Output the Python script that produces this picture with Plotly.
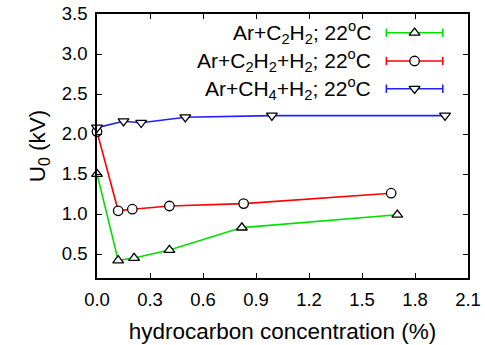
import plotly.graph_objects as go

# Data
c2h2_x = [0.0, 0.12, 0.21, 0.41, 0.82, 1.70]
c2h2_y = [1.50, 0.42, 0.45, 0.55, 0.83, 0.99]
c2h2h2_x = [0.0, 0.12, 0.20, 0.41, 0.83, 1.665]
c2h2h2_y = [2.03, 1.04, 1.06, 1.10, 1.13, 1.26]
ch4h2_x = [0.0, 0.15, 0.25, 0.50, 0.99, 1.97]
ch4h2_y = [2.08, 2.16, 2.14, 2.21, 2.23, 2.23]

labels = ["Ar+C<sub>2</sub>H<sub>2</sub>; 22<sup>o</sup>C",
          "Ar+C<sub>2</sub>H<sub>2</sub>+H<sub>2</sub>; 22<sup>o</sup>C",
          "Ar+CH<sub>4</sub>+H<sub>2</sub>; 22<sup>o</sup>C"]
colors = ["#00e000", "#ff0000", "#2020ff"]
symbols = ["triangle-up", "circle", "triangle-down"]

series = [(c2h2_x, c2h2_y), (c2h2h2_x, c2h2h2_y), (ch4h2_x, ch4h2_y)]

FONT = "Liberation Sans, Arial, Helvetica, sans-serif"

fig = go.Figure()
for (xs, ys), col, sym in zip(series, colors, symbols):
    fig.add_trace(go.Scatter(
        x=xs, y=ys, mode="lines+markers",
        line=dict(color=col, width=1.6),
        marker=dict(symbol=sym, size=9.5, color="white",
                    line=dict(color="black", width=1.3)),
        showlegend=False, cliponaxis=False))

# Legend (gnuplot style: text left, sample right)
row_y = [0.929, 0.822, 0.717]
sx0, sx1, sxm = 0.78, 0.932, 0.856
for lab, col, sym, yy in zip(labels, colors, symbols, row_y):
    fig.add_trace(go.Scatter(
        x=[sx0, sx1], y=[yy, yy], mode="lines+markers",
        line=dict(color=col, width=1.6),
        marker=dict(symbol="line-ns", size=6, line=dict(color=col, width=1.6)),
        xaxis="x2", yaxis="y2", showlegend=False, hoverinfo="skip"))
    fig.add_trace(go.Scatter(
        x=[sxm], y=[yy], mode="markers",
        marker=dict(symbol=sym, size=9.5, color="white",
                    line=dict(color="black", width=1.3)),
        xaxis="x2", yaxis="y2", showlegend=False, hoverinfo="skip"))
    fig.add_annotation(text=lab, x=0.743, y=yy, xref="paper", yref="paper",
                       xanchor="right", yanchor="middle", showarrow=False,
                       font=dict(family=FONT, size=21, color="black"))

axis_common = dict(showgrid=False, zeroline=False, showline=True,
                   linecolor="black", linewidth=1.5, mirror="ticks",
                   ticks="inside", ticklen=5, tickwidth=1, tickcolor="black",
                   automargin=False, ticklabelstandoff=4,
                   tickfont=dict(family=FONT, size=18.5, color="black"))

fig.update_layout(
    width=485, height=345,
    margin=dict(l=97, r=17, t=14, b=67),
    paper_bgcolor="white", plot_bgcolor="white",
    xaxis=dict(range=[0, 2.1], tick0=0, dtick=0.3, tickformat=".1f",
               title=dict(text="hydrocarbon concentration (%)", standoff=14,
                          font=dict(family=FONT, size=22.5, color="black")),
               **axis_common),
    yaxis=dict(range=[0.2, 3.5], tick0=0.5, dtick=0.5, tickformat=".1f",
               title=dict(text="U<sub>0</sub> (kV)", standoff=10,
                          font=dict(family=FONT, size=22.5, color="black")),
               **axis_common),
    xaxis2=dict(overlaying="x", range=[0, 1], visible=False, fixedrange=True),
    yaxis2=dict(overlaying="y", range=[0, 1], visible=False, fixedrange=True),
)

fig.write_html("out.html", config={"displayModeBar": False},
               post_script="document.body.style.margin='0';"
                           "document.body.style.overflow='hidden';")
